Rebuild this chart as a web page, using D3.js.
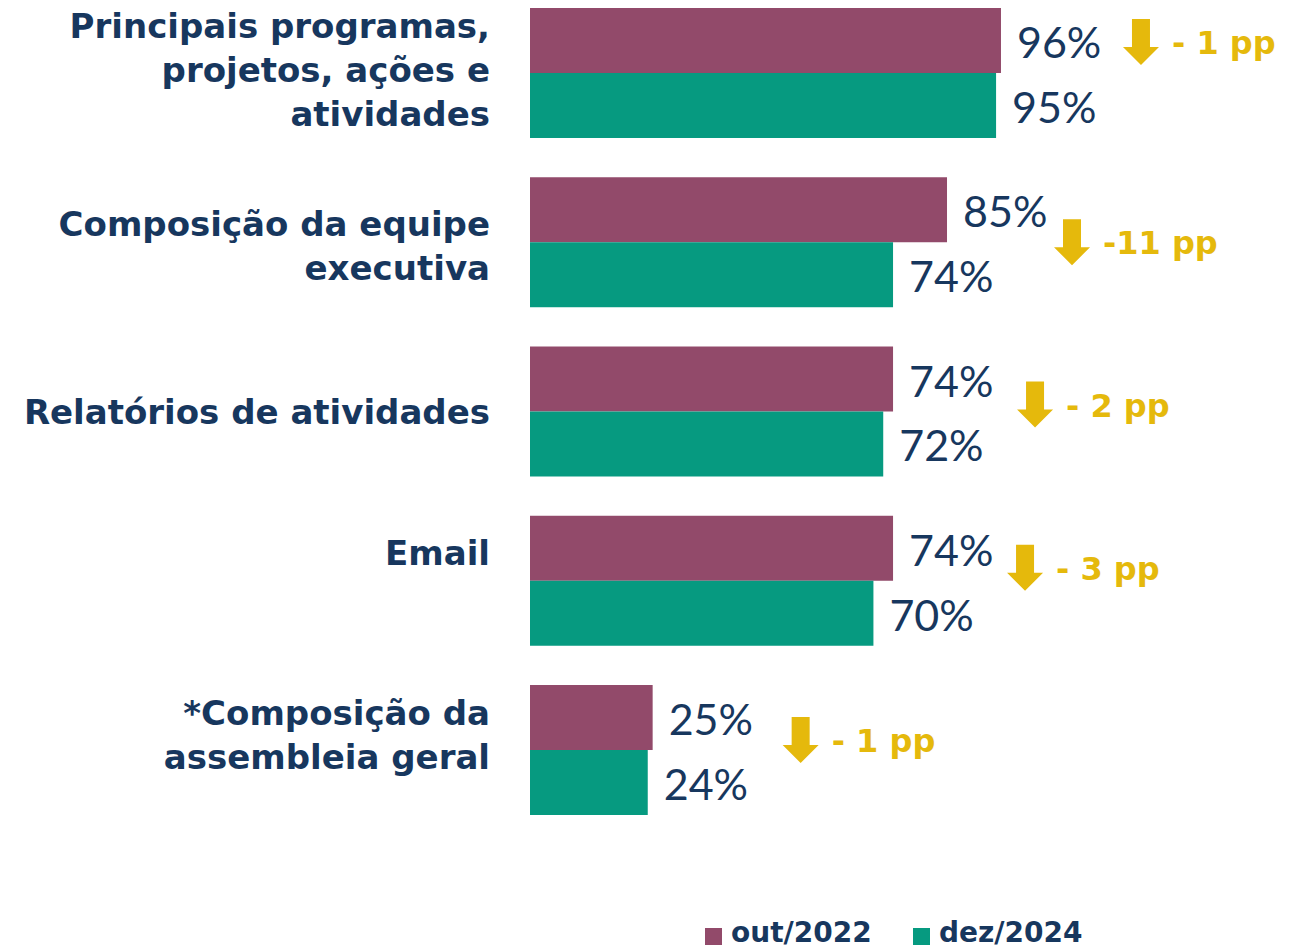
<!DOCTYPE html>
<html><head><meta charset="utf-8">
<script src="https://cdn.jsdelivr.net/npm/d3@7"></script>
<style>
html,body{margin:0;padding:0;background:#fff;}
svg{display:block;}
</style></head>
<body>
<svg id="chart" width="1298" height="950"></svg>
<script>
// ---- data ----
const categories = [
  ["Principais programas,", "projetos, ações e", "atividades"],
  ["Composição da equipe", "executiva"],
  ["Relatórios de atividades"],
  ["Email"],
  ["*Composição da", "assembleia geral"]
];
const seriesNames = ["out/2022", "dez/2024"];
const out2022 = [96, 85, 74, 74, 25];
const dez2024 = [95, 74, 72, 70, 24];
const deltaLabels = ["- 1 pp", "-11 pp", "- 2 pp", "- 3 pp", "- 1 pp"];

// ---- layout ----
const colors = ["#924A6A", "#069A80"];
const navy = "#17375E";
const yellow = "#E5B90C";
const labelFont = "'DejaVu Sans', 'Noto Sans', sans-serif";
// per-group small layout nudges for the delta arrow/label [dx, dy] and category label dy
const deltaNudge = [[3, -31], [-12, 0], [5, -7], [-5, -13], [11, -10]];
const catNudge = [-3, 4, 0, -28, -15];

const svg = d3.select("#chart");
const x0 = 530;
const x = d3.scaleLinear().domain([0, 100]).range([x0, x0 + 490.6]);
const y = d3.scaleBand().domain(d3.range(categories.length)).range([8, 815]).paddingInner(0.232).paddingOuter(0);
const sub = d3.scaleBand().domain([0, 1]).range([0, y.bandwidth()]);

const series = [out2022, dez2024];
const g = svg.append("g");

categories.forEach((cat, i) => {
  series.forEach((vals, s) => {
    g.append("rect")
      .attr("x", x(0))
      .attr("y", y(i) + sub(s))
      .attr("width", x(vals[i]) - x(0))
      .attr("height", sub.bandwidth())
      .attr("fill", colors[s]);
    g.append("text")
      .attr("x", x(vals[i]) + 16)
      .attr("y", y(i) + sub(s) + sub.bandwidth() / 2 + 1)
      .attr("dominant-baseline", "central")
      .attr("font-family", "Lato, 'Noto Sans', sans-serif")
      .attr("font-weight", 400)
      .attr("font-size", 43)
      .attr("fill", navy)
      .text(vals[i] + "%");
  });

  // category label
  const lh = 44;
  const cy = y(i) + y.bandwidth() / 2 + catNudge[i];
  const t = g.append("text")
    .attr("text-anchor", "end")
    .attr("font-family", labelFont)
    .attr("font-weight", "bold")
    .attr("font-size", 34)
    .attr("fill", navy);
  cat.forEach((line, k) => {
    t.append("tspan")
      .attr("x", 490)
      .attr("y", cy + (k - (cat.length - 1) / 2) * lh)
      .attr("dominant-baseline", "central")
      .text(line);
  });

  // delta arrow + label
  const maxV = Math.max(out2022[i], dez2024[i]);
  const ax = x(maxV) + 137 + deltaNudge[i][0];
  const ay = y(i) + y.bandwidth() / 2 + deltaNudge[i][1];
  const h = 46, sw = 9, hw = 18, hh = 18;
  const top = ay - h / 2, bot = ay + h / 2;
  g.append("path")
    .attr("d", `M${ax - sw},${top} L${ax + sw},${top} L${ax + sw},${bot - hh} L${ax + hw},${bot - hh} L${ax},${bot} L${ax - hw},${bot - hh} L${ax - sw},${bot - hh} Z`)
    .attr("fill", yellow);
  g.append("text")
    .attr("x", ax + 31)
    .attr("y", ay + 1)
    .attr("dominant-baseline", "central")
    .attr("font-family", labelFont)
    .attr("font-weight", "bold")
    .attr("font-size", 32)
    .attr("fill", yellow)
    .text(deltaLabels[i]);
});

// legend
const legendX = [705, 913];
seriesNames.forEach((name, s) => {
  svg.append("rect")
    .attr("x", legendX[s]).attr("y", 928)
    .attr("width", 17).attr("height", 17)
    .attr("fill", colors[s]);
  svg.append("text")
    .attr("x", legendX[s] + 26).attr("y", 932)
    .attr("dominant-baseline", "central")
    .attr("font-family", labelFont)
    .attr("font-weight", "bold")
    .attr("font-size", 28)
    .attr("fill", navy)
    .text(name);
});
</script>
</body></html>
